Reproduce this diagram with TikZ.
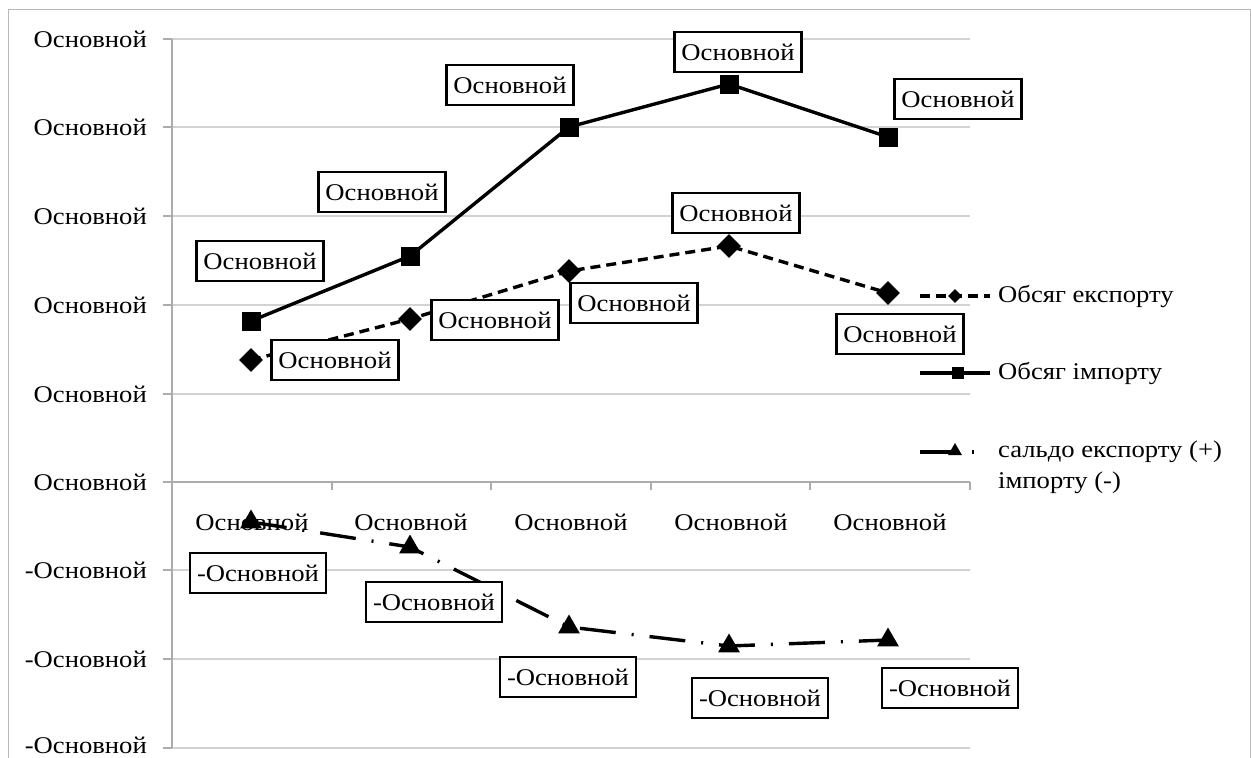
\documentclass[tikz,border=0pt]{standalone}
\usepackage{fontspec}
\setmainfont{Liberation Serif}[FakeStretch=1.11]
\usetikzlibrary{shapes.geometric}

\tikzset{
	gridline/.style={gray!35, line width=1.3pt},
	axisline/.style={gray!65, line width=1.3pt},
	ticklab/.style={font=\fontsize{24}{28}\selectfont, inner sep=0pt},
	valbox/.style={draw=black, fill=white, line width=2.6pt, inner xsep=7pt, minimum height=40pt, font=\fontsize{24}{28}\selectfont},
	impline/.style={line width=3.4pt},
	expline/.style={line width=3.4pt, dash pattern=on 10pt off 6pt},
	salline/.style={line width=3.4pt, dash pattern=on 36pt off 16pt on 2pt off 16pt},
	impmark/.style={rectangle, fill=black, inner sep=0pt, minimum size=19pt},
	expmark/.style={diamond, fill=black, inner sep=0pt, minimum size=24pt},
	salmark/.style={regular polygon, regular polygon sides=3, fill=black, inner sep=0pt, minimum size=25pt}
}

\begin{document}
\begin{tikzpicture}[x=1pt, y=-1pt]
	\useasboundingbox (0,0) rectangle (1251,758);
	\draw[gray!55, line width=1pt] (8,770) -- (8,9) -- (1250,9) -- (1250,770);

	% grid and axes
	\foreach \y in {39,127,216,305,394,570,659,748}
		\draw[gridline] (163,\y) -- (970,\y);
	\draw[axisline] (172,39) -- (172,748);
	\draw[axisline] (163,482) -- (970,482);
	\foreach \y in {39,127,216,305,394,570,659,748}
		\draw[axisline] (163,\y) -- (172,\y);
	\foreach \x in {332,491,651,810,970}
		\draw[axisline] (\x,482) -- (\x,490);

	\foreach \y/\t in {39/Основной,127/Основной,216/Основной,305/Основной,394/Основной,482/Основной,570/-Основной,659/-Основной,745/-Основной}
		\node[ticklab, anchor=east] (yl\y) at (147,\y) {\t};
	\foreach \x [count=\n] in {252,411,571,731,890}
		\node[ticklab] (cat\n) at (\x,522) {Основной};

	% series
	\coordinate (i1) at (251,321); \coordinate (i2) at (410,256); \coordinate (i3) at (569,127);
	\coordinate (i4) at (729,84);  \coordinate (i5) at (888,137);
	\coordinate (e1) at (251,360); \coordinate (e2) at (410,319); \coordinate (e3) at (569,271);
	\coordinate (e4) at (729,246); \coordinate (e5) at (888,293);
	\coordinate (s1) at (251,522); \coordinate (s2) at (410,547); \coordinate (s3) at (569,627);
	\coordinate (s4) at (729,646); \coordinate (s5) at (888,640);

	\draw[impline] (i1) -- (i2) -- (i3) -- (i4) -- (i5);
	\draw[expline] (e1) -- (e2) -- (e3) -- (e4) -- (e5);
	\draw[salline] (s1) -- (s2) -- (s3) -- (s4) -- (s5);
	\foreach \n in {1,...,5} {
		\node[impmark] (mi\n) at (i\n) {};
		\node[expmark] (me\n) at (e\n) {};
		\node[salmark] (ms\n) at (s\n) {};
	}

	% value labels
	\node[valbox] (vi1) at (260,261) {Основной};
	\node[valbox] (vi2) at (382,192) {Основной};
	\node[valbox] (vi3) at (510,85) {Основной};
	\node[valbox] (vi4) at (738,52) {Основной};
	\node[valbox] (vi5) at (958,99) {Основной};
	\node[valbox] (ve1) at (335,360) {Основной};
	\node[valbox] (ve2) at (495,320) {Основной};
	\node[valbox] (ve3) at (634,303) {Основной};
	\node[valbox] (ve4) at (736,213) {Основной};
	\node[valbox] (ve5) at (900,334) {Основной};
	\node[valbox] (vs1) at (258,573) {-Основной};
	\node[valbox] (vs2) at (434,602) {-Основной};
	\node[valbox] (vs3) at (568,677) {-Основной};
	\node[valbox] (vs4) at (760,698) {-Основной};
	\node[valbox] (vs5) at (950,688) {-Основной};

	% legend
	\coordinate (le1) at (920,296); \coordinate (le2) at (990,296);
	\coordinate (li1) at (920,373); \coordinate (li2) at (990,373);
	\coordinate (ls1) at (920,452); \coordinate (ls2) at (976,452);
	\draw[expline] (le1) -- (le2);
	\draw[impline] (li1) -- (li2);
	\draw[salline] (ls1) -- (ls2);
	\node[expmark, minimum size=14pt] (lme) at (955,296) {};
	\node[impmark, minimum size=12pt] (lmi) at (958,373) {};
	\node[salmark, minimum size=16pt] (lms) at (955,451) {};
	\node[ticklab, anchor=west] (lte) at (998,296) {Обсяг експорту};
	\node[ticklab, anchor=west] (lti) at (998,373) {Обсяг імпорту};
	\node[ticklab, anchor=west, align=left, font=\fontsize{24}{31}\selectfont] (lts) at (998,467) {сальдо експорту (+)\\імпорту (-)};
\end{tikzpicture}
\end{document}
